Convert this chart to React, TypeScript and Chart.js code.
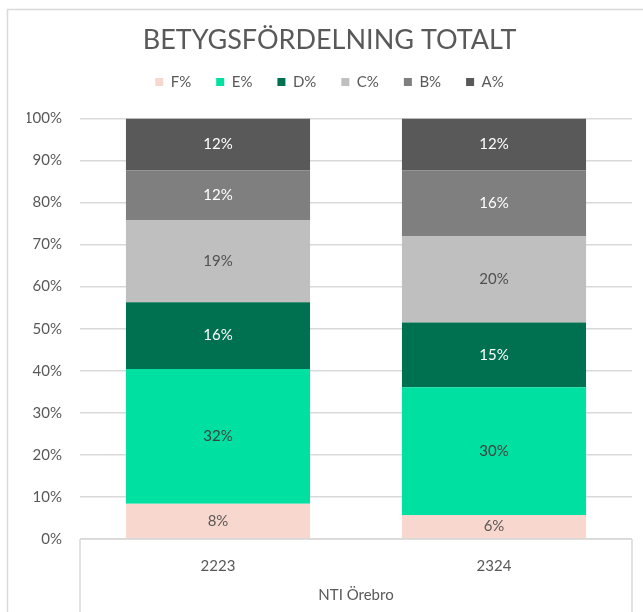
import React, { useEffect, useRef } from "react";
import { Chart, registerables } from "chart.js";

Chart.register(...registerables);

const chartTitle = "BETYGSFÖRDELNING TOTALT";
const categories = ["2223", "2324"];
const groupLabel = "NTI Örebro";
const seriesNames = ["F%", "E%", "D%", "C%", "B%", "A%"];
const fValues = [8.4, 5.7];
const eValues = [32.0, 30.4];
const dValues = [15.9, 15.4];
const cValues = [19.4, 20.4];
const bValues = [11.9, 15.7];
const aValues = [12.4, 12.4];
const yTickMax = 100;
const yTickStep = 10;

const seriesColors = ["#F8D8CE", "#00E0A0", "#007150", "#BFBFBF", "#7F7F7F", "#595959"];
const labelColors = ["#595959", "#404040", "#FFFFFF", "#505050", "#FFFFFF", "#FFFFFF"];
const textColor = "#595959";
const lineColor = "#D9D9D9";
const fontFamily = "Lato, 'DejaVu Sans', sans-serif";

const frameAndBoxPlugin = {
  id: "frameAndBox",
  beforeDraw(chart: any) {
    const { ctx, width, height } = chart;
    ctx.save();
    ctx.fillStyle = "#FFFFFF";
    ctx.fillRect(0, 0, width, height);
    ctx.strokeStyle = lineColor;
    ctx.lineWidth = 1.5;
    ctx.strokeRect(7.5, 9.5, width + 20, height + 20);
    ctx.restore();
  },
  afterDraw(chart: any) {
    const { ctx, chartArea, height } = chart;
    ctx.save();
    ctx.strokeStyle = lineColor;
    ctx.lineWidth = 1.5;
    ctx.beginPath();
    ctx.moveTo(chartArea.left, chartArea.bottom);
    ctx.lineTo(chartArea.right, chartArea.bottom);
    ctx.moveTo(chartArea.left, chartArea.bottom);
    ctx.lineTo(chartArea.left, height);
    ctx.moveTo(chartArea.right, chartArea.bottom);
    ctx.lineTo(chartArea.right, height);
    ctx.stroke();
    ctx.restore();
  },
};

const dataLabelPlugin = {
  id: "segmentLabels",
  afterDatasetsDraw(chart: any) {
    const { ctx } = chart;
    ctx.save();
    ctx.font = `15px ${fontFamily}`;
    ctx.textAlign = "center";
    ctx.textBaseline = "middle";
    chart.data.datasets.forEach((ds: any, di: number) => {
      const meta = chart.getDatasetMeta(di);
      meta.data.forEach((bar: any, i: number) => {
        const v = ds.data[i];
        const cy = (bar.y + bar.base) / 2;
        ctx.fillStyle = labelColors[di];
        ctx.fillText(`${Math.round(v)}%`, bar.x, cy);
      });
    });
    ctx.restore();
  },
};

export default function App() {
  const canvasRef = useRef<HTMLCanvasElement | null>(null);

  useEffect(() => {
    if (!canvasRef.current) return;
    const seriesValues = [fValues, eValues, dValues, cValues, bValues, aValues];
    const chart = new Chart(canvasRef.current, {
      type: "bar",
      data: {
        labels: categories,
        datasets: seriesNames.map((name, i) => ({
          label: name,
          data: seriesValues[i],
          backgroundColor: seriesColors[i],
          borderWidth: 0,
          categoryPercentage: 1,
          barPercentage: 0.667,
        })),
      },
      options: {
        animation: false,
        responsive: false,
        devicePixelRatio: 1,
        layout: { padding: { left: 27, right: 11, top: 10, bottom: 0 } },
        plugins: {
          title: {
            display: true,
            text: chartTitle,
            color: textColor,
            font: { family: fontFamily, size: 27, weight: "normal", lineHeight: 0.7 },
            padding: { top: 20.5, bottom: 0 },
          },
          legend: {
            display: true,
            position: "top",
            labels: {
              color: textColor,
              font: { family: fontFamily, size: 15 },
              boxWidth: 8,
              boxHeight: 8,
              padding: 25,
            },
          },
          subtitle: {
            display: true,
            text: "",
            weight: 500,
            font: { size: 1, lineHeight: 1 },
            padding: { top: 0, bottom: 18 },
          } as any,
          tooltip: { enabled: false },
        },
        scales: {
          x: {
            stacked: true,
            grid: { display: false },
            border: { display: false },
            ticks: {
              color: textColor,
              font: { family: fontFamily, size: 15 },
              padding: 10,
            },
            title: {
              display: true,
              text: groupLabel,
              color: textColor,
              font: { family: fontFamily, size: 15 },
              padding: { top: 0, bottom: 8 },
            },
            afterFit(scale: any) {
              scale.height = 73;
            },
          },
          y: {
            stacked: true,
            min: 0,
            max: yTickMax,
            grid: { color: lineColor, lineWidth: 1.5, drawTicks: false },
            border: { display: false },
            ticks: {
              stepSize: yTickStep,
              color: textColor,
              font: { family: fontFamily, size: 15 },
              padding: 18,
              callback: (v: any) => `${v}%`,
            },
            afterFit(scale: any) {
              scale.width = 53;
            },
          },
        },
      },
      plugins: [frameAndBoxPlugin, dataLabelPlugin],
    });
    return () => chart.destroy();
  }, []);

  return (
    <div style={{ position: "relative", width: 643, height: 612 }}>
      <canvas
        ref={canvasRef}
        width={643}
        height={612}
        style={{ position: "fixed", left: 0, top: 0, width: 643, height: 612 }}
      />
    </div>
  );
}
